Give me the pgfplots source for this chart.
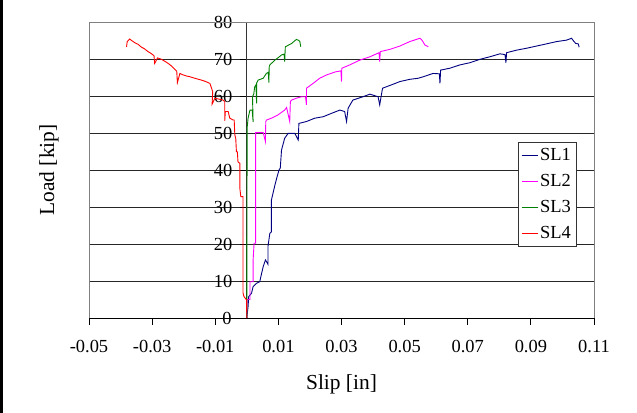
\documentclass[border=0pt]{standalone}
\usepackage{pgfplots}
\pgfplotsset{compat=1.18}
\usepackage{fontspec}
\setmainfont{Liberation Serif}
\newcommand\tickfont{\fontsize{18.5}{22}\selectfont}
\newcommand\titlefont{\fontsize{21.5}{24}\selectfont}
\definecolor{sla}{RGB}{0,0,128}
\definecolor{slb}{RGB}{255,0,255}
\definecolor{slc}{RGB}{0,128,0}
\definecolor{sld}{RGB}{255,0,0}
\begin{document}
\begin{tikzpicture}
\path[use as bounding box] (0,0) rectangle (637bp,413bp);
\fill[black] (0,0) rectangle (2.5bp,413bp);
\begin{axis}[
  at={(89bp,95bp)}, anchor=south west,
  scale only axis, width=505bp, height=296bp,
  xmin=-0.05, xmax=0.11, ymin=0, ymax=80,
  axis x line=bottom, axis y line=middle,
  axis line style={-},
  x axis line style={black, line width=0.8bp},
  y axis line style={black!80, line width=0.8bp},
  xtick={-0.05,-0.03,-0.01,0.01,0.03,0.05,0.07,0.09,0.11},
  xticklabels={-0.05,-0.03,-0.01,0.01,0.03,0.05,0.07,0.09,0.11},
  ytick={0,10,20,30,40,50,60,70,80},
  yticklabels={0,10,20,30,40,50,60,70,80},
  tick align=outside,
  major tick length=7bp,
  tick style={black, line width=0.8bp},
  ticklabel style={font=\tickfont},
  xticklabel style={yshift=-12bp},
  yticklabel style={xshift=-4bp},
  ymajorgrids,
  grid style={black!85, line width=0.7bp},
  clip=false,
  legend style={at={(rel axis cs:0.8495,0.5946)}, anchor=north west,
    draw=black!80, fill=white, font=\tickfont, inner sep=3bp,
    nodes={inner sep=2bp, text height=13bp, text depth=3bp},
    row sep=6bp},
  legend cell align=left,
  legend image code/.code={\draw[#1] (0bp,0bp) -- (16bp,0bp);},
]
\addplot[color=sla, line width=0.9bp] coordinates {
(0,0) (0.0004,3.1) (0.0006,5.8) (0.0015,6.7) (0.0020,8.5) (0.0031,9.4)
(0.0041,9.8) (0.0047,12.1) (0.0052,13.9) (0.0059,15.7) (0.0064,15.0)
(0.0067,14.5) (0.0067,19.3) (0.0073,22.9) (0.0078,23.3) (0.0078,31.9)
(0.0089,35.9) (0.0096,38.2) (0.0102,40.0) (0.0106,40.5) (0.0110,45.4)
(0.0120,48.6) (0.0131,49.9) (0.0152,49.9) (0.0163,48.1) (0.0165,52.6)
(0.0189,53.1) (0.0215,54.0) (0.0242,54.4) (0.0268,55.3) (0.0295,56.2)
(0.0310,55.8) (0.0316,53.1) (0.0321,56.7) (0.0336,58.9) (0.0368,59.8)
(0.0390,60.5) (0.0416,59.8) (0.0421,57.6) (0.0430,62.1) (0.0458,63.0)
(0.0485,63.9) (0.0516,64.5) (0.0543,64.8) (0.0559,65.2) (0.0590,66.1)
(0.0610,66.0) (0.0612,63.4) (0.0614,67.0) (0.0643,67.5) (0.0675,68.4)
(0.0707,69.0) (0.0738,69.9) (0.0770,70.6) (0.0802,71.4) (0.0818,71.2)
(0.0821,69.0) (0.0823,71.7) (0.0855,72.4) (0.0886,72.9) (0.0918,73.5)
(0.0950,74.1) (0.0981,74.7) (0.1013,75.1) (0.1029,75.6) (0.1034,75.0)
(0.1042,74.2) (0.1050,74.1) (0.1053,73.2)
};
\addlegendentry{SL1}
\addplot[color=slb, line width=0.9bp] coordinates {
(0,0) (0.0001,5.0) (0.0010,5.0) (0.0010,9.8) (0.0020,9.8) (0.0020,15.7)
(0.0023,20.2) (0.0028,20.2) (0.0028,50.1) (0.0052,50.1) (0.0059,47.7)
(0.0060,53.0) (0.0062,53.5) (0.0078,54.0) (0.0099,54.9) (0.0120,56.2)
(0.0126,56.9) (0.0136,53.1) (0.0138,58.5) (0.0142,58.9) (0.0157,59.4)
(0.0173,59.8) (0.0186,59.8) (0.0189,57.6) (0.0189,62.1) (0.0210,63.4)
(0.0231,64.8) (0.0253,65.7) (0.0280,66.5) (0.0298,66.8) (0.0300,63.9)
(0.0301,67.5) (0.0326,68.4) (0.0358,69.7) (0.0390,70.6) (0.0419,71.7)
(0.0421,69.3) (0.0423,72.0) (0.0453,72.6) (0.0485,73.5) (0.0516,74.7)
(0.0527,75.0) (0.0548,75.6) (0.0553,75.3) (0.0558,74.7) (0.0564,73.8)
(0.0575,73.3)
};
\addlegendentry{SL2}
\addplot[color=slc, line width=0.9bp] coordinates {
(0,0) (0.0001,51.4) (0.0004,54.0) (0.0010,56.2) (0.0017,56.2) (0.0020,53.0)
(0.0018,59.8) (0.0022,60.5) (0.0025,62.5) (0.0029,63.0) (0.0031,58.0)
(0.0031,63.5) (0.0036,64.3) (0.0052,64.8) (0.0062,66.1) (0.0068,66.4)
(0.0070,63.6) (0.0071,68.0) (0.0073,68.4) (0.0089,69.7) (0.0100,70.4)
(0.0110,71.1) (0.0118,71.3) (0.0120,69.3) (0.0122,73.3) (0.0142,74.2)
(0.0157,75.3) (0.0165,75.0) (0.0168,74.7) (0.0171,73.3)
};
\addlegendentry{SL3}
\addplot[color=sld, line width=0.9bp] coordinates {
(0,0) (-0.0001,4.9) (-0.0009,5.8) (-0.0012,6.8) (-0.0012,32.8) (-0.0019,32.8)
(-0.0022,35.0) (-0.0022,41.8) (-0.0028,42.2) (-0.0030,44.9) (-0.0033,45.0)
(-0.0035,48.5) (-0.0038,49.5) (-0.0040,53.5) (-0.0043,53.5) (-0.0054,54.0)
(-0.0059,55.8) (-0.0068,55.8) (-0.0070,53.3) (-0.0070,58.5) (-0.0075,58.9)
(-0.0101,59.4) (-0.0110,57.8) (-0.0108,61.2) (-0.0117,63.4) (-0.0130,63.9)
(-0.0144,64.3) (-0.0165,64.8) (-0.0180,65.2) (-0.0191,65.4) (-0.0205,65.8)
(-0.0212,66.1) (-0.0220,63.6) (-0.0222,66.7) (-0.0228,67.2) (-0.0240,68.2)
(-0.0249,68.8) (-0.0260,69.4) (-0.0270,69.9) (-0.0283,70.3) (-0.0292,68.8)
(-0.0294,70.9) (-0.0305,71.6) (-0.0313,72.0) (-0.0325,72.8) (-0.0334,73.2)
(-0.0345,74.0) (-0.0355,74.4) (-0.0365,75.0) (-0.0371,75.4) (-0.0376,75.0)
(-0.0379,74.7) (-0.0381,73.3)
};
\addlegendentry{SL4}
\draw[black!50, line width=0.8bp] (rel axis cs:0,0) -- (rel axis cs:0,1) -- (rel axis cs:1,1) -- (rel axis cs:1,0);
\node[anchor=east, font=\tickfont, inner sep=0pt] at ([xshift=-15bp]axis cs:0,0) {0};
\end{axis}
\node[rotate=90, font=\titlefont] at (49bp,243bp) {Load [kip]};
\node[font=\titlefont] at (341.5bp,29bp) {Slip [in]};
\end{tikzpicture}
\end{document}
